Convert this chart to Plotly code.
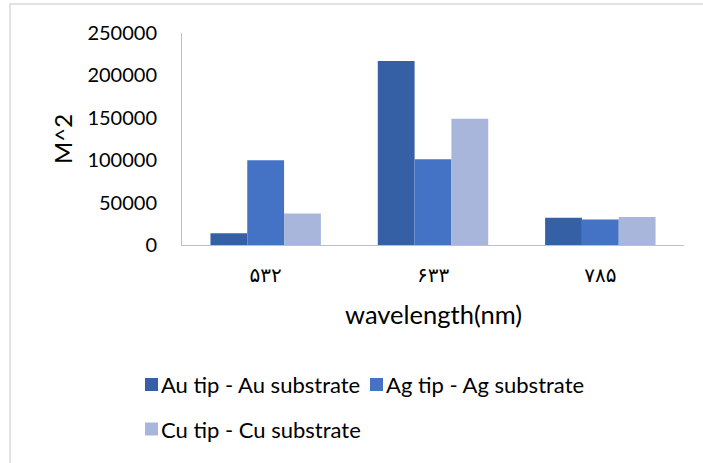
import plotly.graph_objects as go

# Excitation wavelengths (Persian digits as tick labels)
wavelengths = ["۵۳۲", "۶۳۳", "۷۸۵"]

series_names = [
    "Au tip - Au substrate",
    "Ag tip - Ag substrate",
    "Cu tip - Cu substrate",
]
au_values = [14000, 217000, 32000]
ag_values = [100000, 101000, 30000]
cu_values = [37000, 149000, 33000]

colors = ["#3560A6", "#4472C4", "#A8B6DB"]

FONT = "Lato, 'Open Sans', sans-serif"

# plot area in pixels
PLOT_LEFT, PLOT_RIGHT = 182, 684
PLOT_TOP, PLOT_BOTTOM = 33, 245
PLOT_W = PLOT_RIGHT - PLOT_LEFT
PLOT_H = PLOT_BOTTOM - PLOT_TOP


def px_x(px):
    """pixel column -> paper x"""
    return (px - PLOT_LEFT) / PLOT_W


def px_y(px):
    """pixel row -> paper y"""
    return (PLOT_BOTTOM - px) / PLOT_H


fig = go.Figure()
for name, vals, col in zip(series_names, [au_values, ag_values, cu_values], colors):
    fig.add_trace(go.Bar(
        x=wavelengths, y=vals, name=name,
        marker=dict(color=col, line=dict(width=0)),
        showlegend=False,
    ))

# legend laid out as two rows: swatch + label
legend_slots = [(145, 384.5), (370, 384.5), (145, 429)]
SW = 13
shapes = [dict(
    type="rect", xref="paper", yref="paper",
    x0=px_x(10), x1=1.2, y0=px_y(520), y1=px_y(4),
    line=dict(color="#D9D9D9", width=1.5), fillcolor="rgba(0,0,0,0)",
    layer="below",
)]
annotations = [
    dict(text="wavelength(nm)", xref="paper", yref="paper",
         x=0.5, y=px_y(314), xanchor="center", yanchor="middle",
         showarrow=False, font=dict(size=25.5)),
    dict(text="M^2", xref="paper", yref="paper", textangle=-90,
         x=px_x(62), y=0.5, xanchor="center", yanchor="middle",
         showarrow=False, font=dict(size=24)),
]
for name, col, (sx, sy) in zip(series_names, colors, legend_slots):
    shapes.append(dict(
        type="rect", xref="paper", yref="paper",
        x0=px_x(sx), x1=px_x(sx + SW), y0=px_y(sy + SW / 2), y1=px_y(sy - SW / 2),
        line=dict(width=0), fillcolor=col,
    ))
    annotations.append(dict(
        text=name, xref="paper", yref="paper",
        x=px_x(sx + SW + 1), y=px_y(sy), xanchor="left", yanchor="middle",
        showarrow=False, font=dict(size=22),
    ))

fig.update_layout(
    width=703, height=463,
    margin=dict(l=PLOT_LEFT, r=703 - PLOT_RIGHT, t=PLOT_TOP, b=463 - PLOT_BOTTOM),
    paper_bgcolor="white", plot_bgcolor="white",
    barmode="group", bargap=0.34, bargroupgap=0,
    font=dict(family=FONT, color="#000000", size=20),
    showlegend=False,
    xaxis=dict(
        showline=True, linecolor="#BFBFBF", linewidth=1,
        ticks="", showgrid=False,
        tickfont=dict(size=20, family="DejaVu Sans"),
        ticklabelstandoff=12,
    ),
    yaxis=dict(
        range=[0, 250000], tickvals=[0, 50000, 100000, 150000, 200000, 250000],
        tickformat="d",
        showline=True, linecolor="#BFBFBF", linewidth=1,
        showgrid=False, zeroline=False, ticks="",
        tickfont=dict(size=20),
        ticklabelstandoff=20,
    ),
    shapes=shapes,
    annotations=annotations,
)

fig.write_html("out.html")
